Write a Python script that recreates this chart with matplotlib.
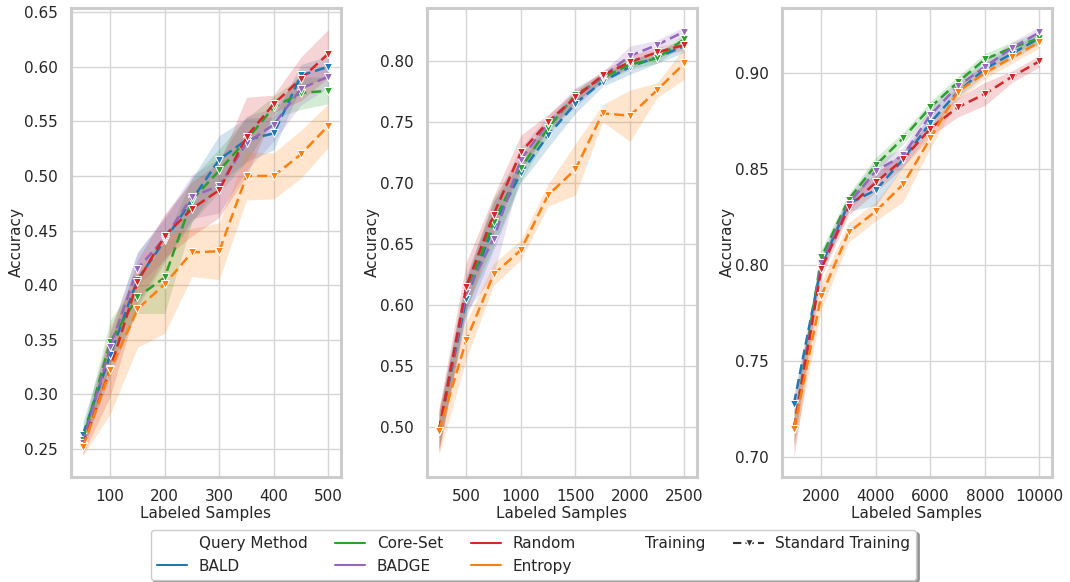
import numpy as np
import matplotlib
matplotlib.use("Agg")
import matplotlib.pyplot as plt
from matplotlib.lines import Line2D
import seaborn as sns

sns.set_theme(style="whitegrid")
plt.rcParams['font.family'] = ['DejaVu Sans']

methods = ["BALD", "Core-Set", "BADGE", "Random", "Entropy"]
colors = {"BALD": "#1f77b4", "Core-Set": "#2ca02c", "BADGE": "#9467bd",
          "Random": "#d62728", "Entropy": "#ff7f0e"}

# panel 1
x_1 = [50, 100, 150, 200, 250, 300, 350, 400, 450, 500]
bald_1 = [0.263, 0.336, 0.405, 0.441, 0.478, 0.515, 0.533, 0.539, 0.592, 0.600]
bald_1_err = [0.012, 0.02, 0.025, 0.02, 0.02, 0.022, 0.02, 0.015, 0.01, 0.01]
core_1 = [0.258, 0.348, 0.389, 0.407, 0.478, 0.505, 0.533, 0.563, 0.576, 0.578]
core_1_err = [0.01, 0.02, 0.015, 0.033, 0.02, 0.02, 0.02, 0.01, 0.015, 0.012]
badge_1 = [0.255, 0.343, 0.415, 0.443, 0.481, 0.491, 0.530, 0.547, 0.580, 0.591]
badge_1_err = [0.01, 0.015, 0.015, 0.02, 0.02, 0.025, 0.025, 0.015, 0.015, 0.01]
random_1 = [0.253, 0.323, 0.403, 0.445, 0.470, 0.487, 0.536, 0.566, 0.589, 0.612]
random_1_err = [0.008, 0.025, 0.02, 0.02, 0.025, 0.025, 0.036, 0.008, 0.02, 0.022]
entropy_1 = [0.252, 0.322, 0.378, 0.401, 0.430, 0.431, 0.500, 0.500, 0.520, 0.546]
entropy_1_err = [0.008, 0.04, 0.035, 0.045, 0.022, 0.026, 0.022, 0.021, 0.022, 0.02]

# panel 2
x_2 = [250, 500, 750, 1000, 1250, 1500, 1750, 2000, 2250, 2500]
bald_2 = [0.497, 0.605, 0.665, 0.708, 0.739, 0.765, 0.783, 0.795, 0.803, 0.812]
bald_2_err = [0.015, 0.015, 0.02, 0.008, 0.01, 0.008, 0.004, 0.006, 0.005, 0.005]
core_2 = [0.497, 0.610, 0.668, 0.712, 0.745, 0.772, 0.786, 0.797, 0.802, 0.818]
core_2_err = [0.015, 0.012, 0.02, 0.01, 0.006, 0.005, 0.004, 0.004, 0.004, 0.004]
badge_2 = [0.497, 0.610, 0.654, 0.719, 0.749, 0.770, 0.787, 0.804, 0.813, 0.824]
badge_2_err = [0.015, 0.015, 0.03, 0.01, 0.006, 0.008, 0.004, 0.008, 0.004, 0.004]
random_2 = [0.497, 0.615, 0.674, 0.725, 0.750, 0.770, 0.788, 0.799, 0.807, 0.813]
random_2_err = [0.018, 0.02, 0.015, 0.014, 0.006, 0.005, 0.004, 0.005, 0.004, 0.004]
entropy_2 = [0.497, 0.571, 0.625, 0.645, 0.690, 0.711, 0.757, 0.755, 0.776, 0.798]
entropy_2_err = [0.02, 0.015, 0.009, 0.008, 0.009, 0.021, 0.007, 0.021, 0.006, 0.013]

# panel 3
x_3 = [1000, 2000, 3000, 4000, 5000, 6000, 7000, 8000, 9000, 10000]
bald_3 = [0.728, 0.800, 0.832, 0.839, 0.855, 0.874, 0.890, 0.902, 0.910, 0.918]
bald_3_err = [0.005, 0.004, 0.004, 0.008, 0.004, 0.004, 0.003, 0.003, 0.003, 0.003]
core_3 = [0.715, 0.804, 0.834, 0.852, 0.866, 0.882, 0.895, 0.907, 0.913, 0.918]
core_3_err = [0.008, 0.004, 0.003, 0.004, 0.003, 0.003, 0.003, 0.003, 0.003, 0.003]
badge_3 = [0.715, 0.801, 0.832, 0.849, 0.857, 0.878, 0.893, 0.903, 0.913, 0.921]
badge_3_err = [0.008, 0.004, 0.004, 0.005, 0.004, 0.004, 0.003, 0.003, 0.003, 0.003]
random_3 = [0.715, 0.798, 0.830, 0.843, 0.855, 0.871, 0.882, 0.889, 0.898, 0.906]
random_3_err = [0.015, 0.004, 0.004, 0.005, 0.004, 0.004, 0.005, 0.006, 0.003, 0.003]
entropy_3 = [0.715, 0.784, 0.817, 0.828, 0.842, 0.866, 0.890, 0.900, 0.908, 0.916]
entropy_3_err = [0.01, 0.007, 0.005, 0.005, 0.009, 0.005, 0.004, 0.003, 0.003, 0.003]

panels = [
    (x_1, {"BALD": (bald_1, bald_1_err), "Core-Set": (core_1, core_1_err),
           "BADGE": (badge_1, badge_1_err), "Random": (random_1, random_1_err),
           "Entropy": (entropy_1, entropy_1_err)},
     [100, 200, 300, 400, 500], np.arange(0.25, 0.651, 0.05), (0.2246, 0.6535)),
    (x_2, {"BALD": (bald_2, bald_2_err), "Core-Set": (core_2, core_2_err),
           "BADGE": (badge_2, badge_2_err), "Random": (random_2, random_2_err),
           "Entropy": (entropy_2, entropy_2_err)},
     [500, 1000, 1500, 2000, 2500], np.arange(0.50, 0.801, 0.05), (0.4593, 0.843)),
    (x_3, {"BALD": (bald_3, bald_3_err), "Core-Set": (core_3, core_3_err),
           "BADGE": (badge_3, badge_3_err), "Random": (random_3, random_3_err),
           "Entropy": (entropy_3, entropy_3_err)},
     [2000, 4000, 6000, 8000, 10000], np.arange(0.70, 0.901, 0.05), (0.690, 0.9335)),
]

fig = plt.figure(figsize=(10.7, 5.82), dpi=100)
lefts = [0.066, 0.3988, 0.7306]

for left, (xs, series, xt, yt, ylim) in zip(lefts, panels):
    ax = fig.add_axes([left, 0.181, 0.2523, 0.8047])
    for m in methods:
        y, e = series[m]
        y = np.array(y)
        e = np.array(e)
        ax.fill_between(xs, y - e, y + e, color=colors[m], alpha=0.2, linewidth=0)
        ax.plot(xs, y, color=colors[m], linestyle=(0, (4, 2)), linewidth=1.8,
                marker='v', markersize=6, markeredgecolor='white', markeredgewidth=0.7)
    ax.set_xticks(xt)
    ax.set_yticks(yt)
    ax.set_yticklabels(["%.2f" % v for v in yt])
    ax.set_ylim(ylim)
    ax.set_xlabel("Labeled Samples", fontsize=11, labelpad=1)
    ax.set_ylabel("Accuracy", fontsize=11, labelpad=0)
    ax.tick_params(labelsize=11, pad=3)
    for s in ax.spines.values():
        s.set_color("#cccccc")
        s.set_linewidth(2.2)
    ax.grid(color="#d5d5d5", linewidth=1)

blank = Line2D([], [], linestyle='none')
handles = [blank] + [Line2D([], [], color=colors[m], linewidth=1.5) for m in methods] + \
          [blank, Line2D([], [], color="#333333", linestyle=(0, (4, 2)), linewidth=1.5,
                         marker='v', markersize=6, markeredgecolor='white')]
labels = ["Query Method"] + methods + ["Training", "Standard Training"]
fig.legend(handles, labels, loc='lower center', bbox_to_anchor=(0.4986, 0.004), ncol=5,
           fontsize=11, shadow=True, fancybox=True, frameon=True, edgecolor="#cccccc",
           borderpad=0.4, labelspacing=0.5, columnspacing=1.8, handletextpad=0.75,
           borderaxespad=0, framealpha=1)

fig.savefig("out.png", dpi=100)
